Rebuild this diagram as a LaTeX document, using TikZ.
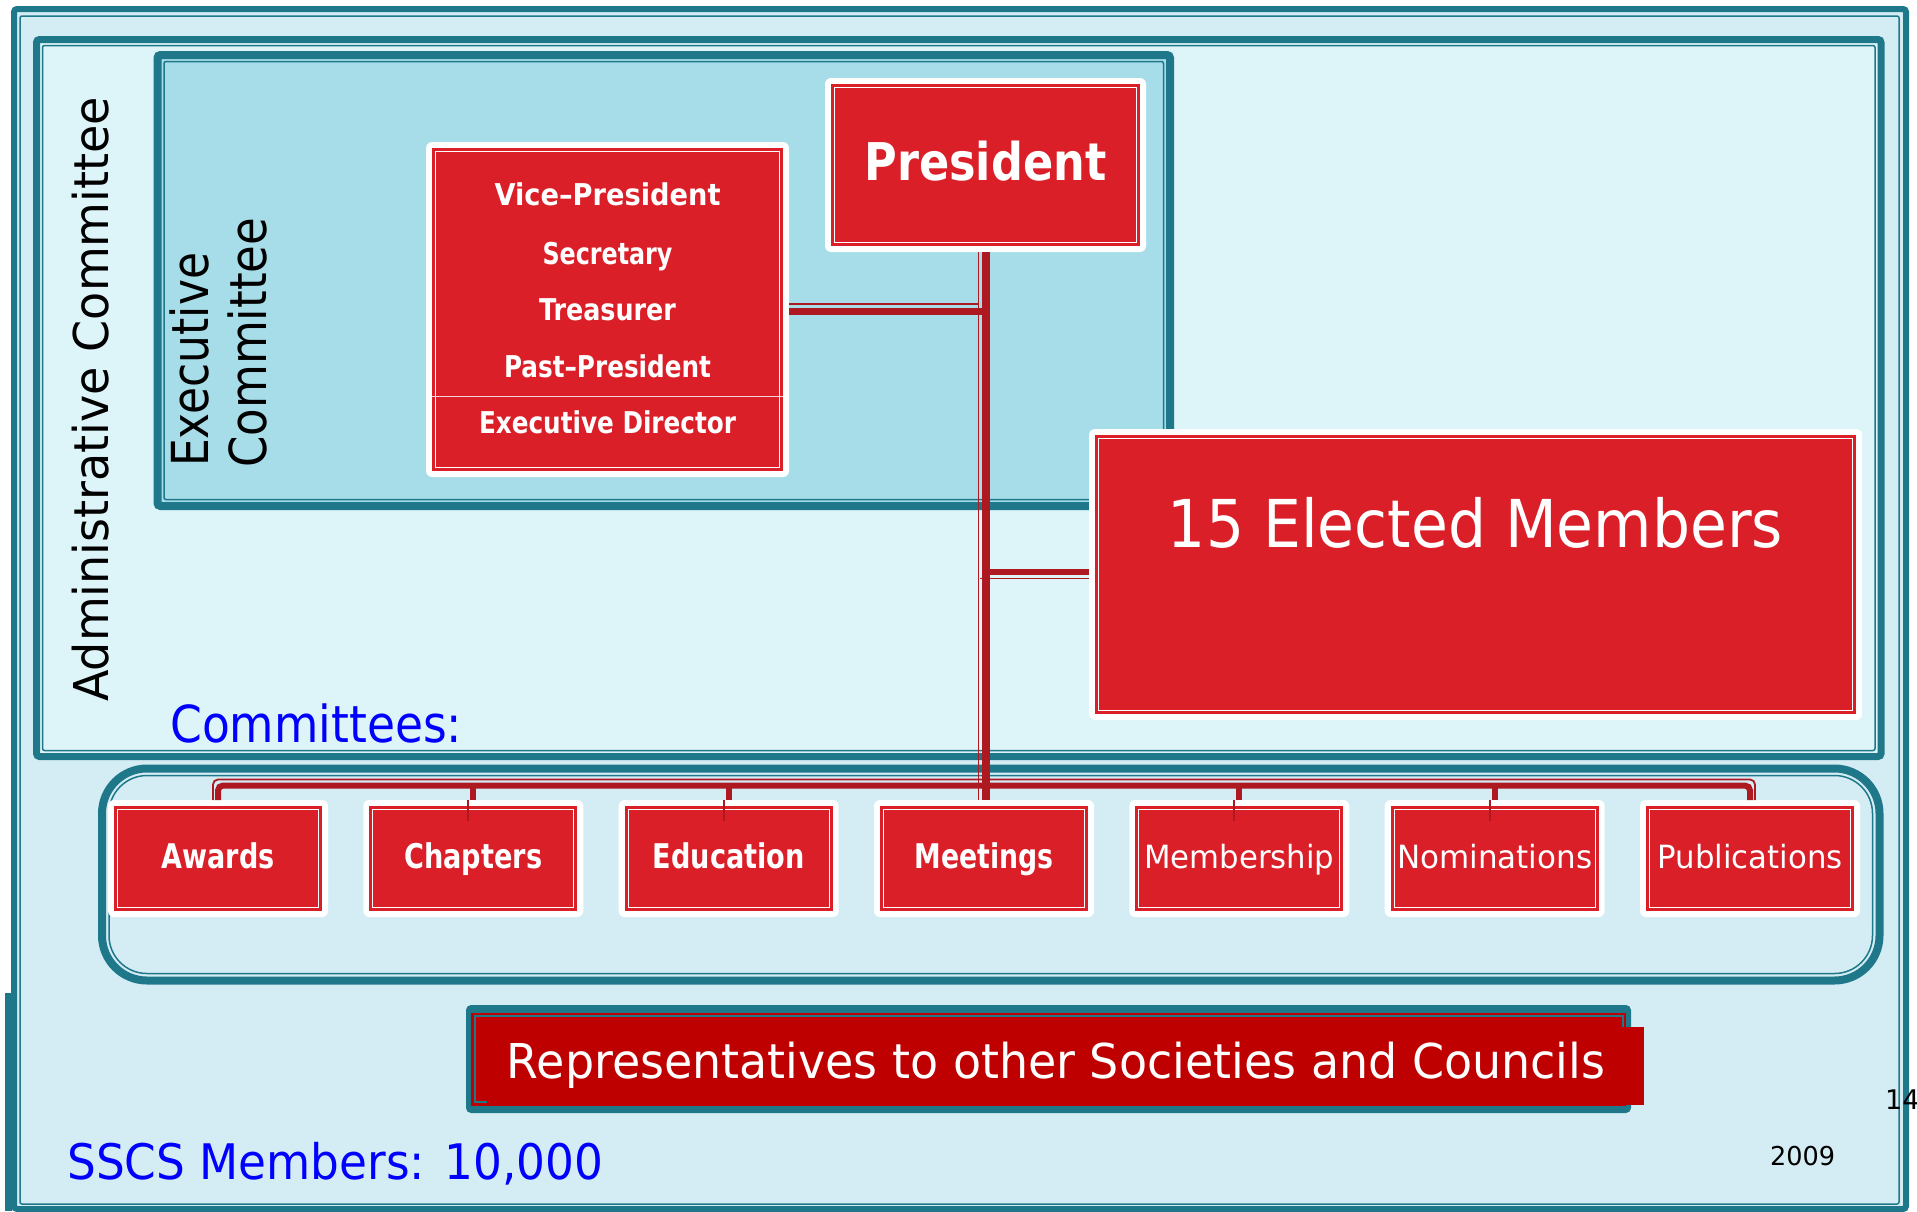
\documentclass[tikz,border=0pt]{standalone}
\usepackage{fontspec}
\setmainfont{DejaVu Sans}
\usepackage{graphicx}
\definecolor{teal1}{HTML}{1F778A}
\definecolor{bgout}{HTML}{D4EDF4}
\definecolor{bgadmin}{HTML}{DDF4F8}
\definecolor{bgexec}{HTML}{A6DDE9}
\definecolor{boxred}{HTML}{DA1F28}
\definecolor{linkred}{HTML}{AE1820}
\definecolor{repred}{HTML}{BE0000}
\definecolor{blue1}{HTML}{0000FF}
\newcommand{\fitw}[3]{\resizebox{#1pt}{\height}{\fontsize{#2pt}{#2pt}\selectfont #3}}
\tikzset{
 framethick/.style={draw=teal1, line width=7pt, rounded corners=3pt},
 framethin/.style={draw=teal1, line width=1.5pt, rounded corners=2pt},
 redbox/.style={fill=white, rounded corners=6pt, inner sep=0pt, outer sep=0pt, path picture={
   \fill[boxred, sharp corners] ([shift={(6pt,-6pt)}]path picture bounding box.north west) rectangle ([shift={(-6pt,6pt)}]path picture bounding box.south east);
   \draw[white, line width=1.2pt, sharp corners] ([shift={(9.5pt,-9.5pt)}]path picture bounding box.north west) rectangle ([shift={(-9.5pt,9.5pt)}]path picture bounding box.south east);}},
 cbox/.style={redbox, minimum width=220pt, minimum height=117pt},
 linkthick/.style={draw=linkred, line width=7pt},
 linkthin/.style={draw=linkred, line width=1.8pt},
 wtext/.style={text=white, inner sep=0pt, anchor=base},
 plain/.style={inner sep=0pt, anchor=base west},
}
\begin{document}
\begin{tikzpicture}[x=1pt,y=-1pt]
\useasboundingbox (0,0) rectangle (1917,1211);
\fill[white] (0,0) rectangle (1917,1211);
% outer frame
\fill[bgout] (14,9) rectangle (1906,1209);
\fill[teal1] (5,993) rectangle (12,1211);
\draw[framethick, line width=6pt] (14,9) rectangle (1906,1209);
\draw[framethin] (20,16) rectangle (1899,1204);
% administrative committee frame
\draw[framethick, fill=bgadmin] (36.5,39.5) rectangle (1881,756.5);
\draw[framethin] (42.5,45.5) rectangle (1875,750.5);
% executive committee frame
\draw[framethick, line width=8pt, fill=bgexec] (157.5,55) rectangle (1170,506);
\draw[framethin] (164,61.5) rectangle (1163.5,499.5);
% committees frame
\draw[draw=teal1, line width=8pt, rounded corners=45pt, fill=bgout] (102,768.5) rectangle (1879.5,980.5);
\draw[draw=teal1, line width=1.5pt, rounded corners=38pt] (109,775.5) rectangle (1872.5,973.5);

% boxes
\node[redbox, minimum width=321pt, minimum height=174pt] (P) at (985.5,165) {};
\node[redbox, minimum width=363pt, minimum height=335pt] (VP) at (607.5,309.5) {};
\node[redbox, minimum width=773pt, minimum height=291pt] (EM) at (1475.5,574.5) {};
\node[cbox] (c1) at (218,858.5) {};
\node[cbox] (c2) at (473.3,858.5) {};
\node[cbox] (c3) at (728.7,858.5) {};
\node[cbox] (c4) at (984,858.5) {};
\node[cbox] (c5) at (1239.3,858.5) {};
\node[cbox] (c6) at (1494.7,858.5) {};
\node[cbox] (c7) at (1750,858.5) {};

% divider in VP box
\draw[white!80!boxred, line width=1pt] (432,396) -- (783,396);

% connectors
\coordinate (jv) at (986,311.5);
\coordinate (jvt) at (978.5,304);
\coordinate (je) at (986,572);
\coordinate (jet) at (980,578.5);
\coordinate (bus) at (0,785.5);
\coordinate (bust) at (0,779.5);
\coordinate (bl) at ([xshift=-5pt]c1.north);
\coordinate (br) at ([xshift=5pt]c7.north);
% thin companion lines
\draw[linkthin] ([xshift=-7pt]P.south) -- ([xshift=-5.5pt]c4.north);
\draw[linkthin] ([yshift=5.5pt]VP.east) -- (jvt);
\draw[linkthin] (jet) -- ([yshift=-4pt]EM.west);
\draw[linkthin, rounded corners=5pt] (bl) |- (bust -| br) -- (br);
\foreach \c in {c2,c3,c5,c6}{
  \draw[linkthin] ([xshift=-5pt]\c.north) -- ++(0,-20.5pt);
}
% thick lines
\draw[linkthick, line width=8pt] ([xshift=0.5pt]P.south) -- ([xshift=2pt]c4.north);
\draw[linkthick] ([yshift=-2pt]VP.east) -- (jv);
\draw[linkthick, line width=6pt] (je) -- ([yshift=2.5pt]EM.west);
\draw[linkthick, line width=6pt, rounded corners=5pt] (c1.north) |- (bus -| c7.north) -- (c7.north);
\foreach \c in {c2,c3,c5,c6}{
  \draw[linkthick, line width=6pt] (\c.north) -- (\c.north |- bus);
}

% representatives box
\fill[teal1, rounded corners=5pt] (466,1005) rectangle (1631,1113);
\fill[repred] (471,1013) rectangle (1626,1106);
\fill[repred] (1620,1027) rectangle (1644,1105);
\draw[teal1, line width=1.5pt] (487,1102) -- (475,1102) -- (475,1016) -- (1623,1016) -- (1623,1027);

% texts in boxes
\node[wtext] (Pt) at (985.5,180) {\fitw{242}{52}{\bfseries President}};
\node[wtext] (v1) at (607.5,205) {\fitw{226}{30}{\bfseries Vice–President}};
\node[wtext] (v2) at (607.5,264) {\fitw{130}{30}{\bfseries Secretary}};
\node[wtext] (v3) at (607.5,320) {\fitw{137}{30}{\bfseries Treasurer}};
\node[wtext] (v4) at (607.5,377) {\fitw{207}{30}{\bfseries Past–President}};
\node[wtext] (v5) at (607.5,433) {\fitw{257}{30}{\bfseries Executive Director}};
\node[wtext] (EMt) at (1475.5,547) {\fitw{615}{66}{15 Elected Members}};
\node[wtext] (t1) at (218,868) {\fitw{113}{34}{\bfseries Awards}};
\node[wtext] (t2) at (473.3,868) {\fitw{138}{34}{\bfseries Chapters}};
\node[wtext] (t3) at (728.7,868) {\fitw{152}{34}{\bfseries Education}};
\node[wtext] (t4) at (984,868) {\fitw{139}{34}{\bfseries Meetings}};
\node[wtext] (t5) at (1239.3,868) {\fitw{190}{32}{Membership}};
\node[wtext] (t6) at (1494.7,868) {\fitw{195}{32}{Nominations}};
\node[wtext] (t7) at (1750,868) {\fitw{185}{32}{Publications}};
\node[wtext] (Rt) at (1056,1078) {\fitw{1098}{48}{Representatives to other Societies and Councils}};

% other texts
\node[plain, rotate=90] (adm) at (108,702) {\fitw{605}{48}{Administrative Committee}};
\node[plain, rotate=90] (ex1) at (208,467) {\fitw{214}{51}{Executive}};
\node[plain, rotate=90] (ex2) at (266,468) {\fitw{250}{51}{Committee}};
\node[plain, text=blue1] (cm) at (170,742) {\fitw{292}{51}{Committees:}};
\node[plain, text=blue1] (ss) at (67,1179) {\fitw{536}{49}{SSCS Members: 10,000}};
\node[plain] (yr) at (1770,1165) {\fitw{65}{26}{2009}};
\node[plain] (pg) at (1885,1109) {\fontsize{27pt}{27pt}\selectfont 14};
\end{tikzpicture}
\end{document}
